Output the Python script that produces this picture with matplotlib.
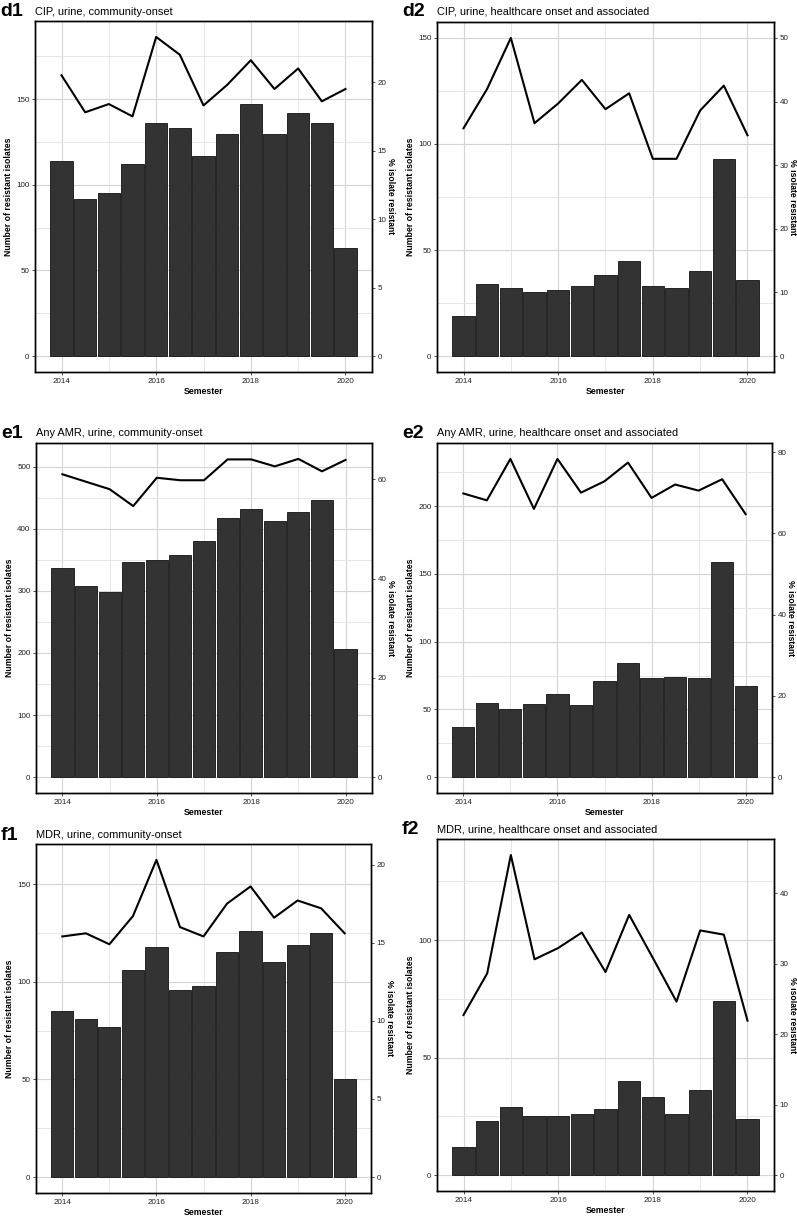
import matplotlib
matplotlib.use("Agg")
import matplotlib.pyplot as plt
from matplotlib.ticker import MultipleLocator

plt.rcParams['font.family'] = ['Liberation Sans', 'DejaVu Sans']

# semesters 2014 H1 ... 2020 H1
semesters = [2014 + 0.5 * i for i in range(13)]

# d1: CIP, urine, community-onset
d1_counts = [114, 92, 95, 112, 136, 133, 117, 130, 147, 130, 142, 136, 63]
d1_pct = [20.5, 17.8, 18.4, 17.5, 23.3, 22.0, 18.3, 19.8, 21.6, 19.5, 21.0, 18.6, 19.5]
# d2: CIP, urine, healthcare onset and associated
d2_counts = [19, 34, 32, 30, 31, 33, 38, 45, 33, 32, 40, 93, 36]
d2_pct = [35.8, 42.0, 50.0, 36.6, 39.7, 43.4, 38.8, 41.3, 31.0, 31.0, 38.6, 42.5, 34.7]
# e1: Any AMR, urine, community-onset
e1_counts = [337, 308, 298, 346, 350, 358, 380, 417, 432, 412, 428, 446, 207]
e1_pct = [61.0, 59.5, 58.0, 54.6, 60.3, 59.8, 59.8, 64.0, 64.0, 62.6, 64.1, 61.6, 63.9]
# e2: Any AMR, urine, healthcare onset and associated
e2_counts = [37, 55, 50, 54, 61, 53, 71, 84, 73, 74, 73, 159, 67]
e2_pct = [69.8, 68.1, 78.3, 66.0, 78.3, 70.0, 72.8, 77.4, 68.7, 72.0, 70.5, 73.3, 64.7]
# f1: MDR, urine, community-onset
f1_counts = [85, 81, 77, 106, 118, 96, 98, 115, 126, 110, 119, 125, 50]
f1_pct = [15.4, 15.6, 14.9, 16.7, 20.3, 16.0, 15.4, 17.5, 18.6, 16.6, 17.7, 17.2, 15.6]
# f2: MDR, urine, healthcare onset and associated
f2_counts = [12, 23, 29, 25, 25, 26, 28, 40, 33, 26, 36, 74, 24]
f2_pct = [22.7, 28.6, 45.4, 30.6, 32.2, 34.4, 28.8, 36.9, 30.8, 24.6, 34.7, 34.1, 21.9]

panels = [
    ("d1", "CIP, urine, community-onset", d1_counts, d1_pct, 8, 50, 5),
    ("d2", "CIP, urine, healthcare onset and associated", d2_counts, d2_pct, 3, 50, 10),
    ("e1", "Any AMR, urine, community-onset", e1_counts, e1_pct, 8, 100, 20),
    ("e2", "Any AMR, urine, healthcare onset and associated", e2_counts, e2_pct, 3, 50, 20),
    ("f1", "MDR, urine, community-onset", f1_counts, f1_pct, 8, 50, 5),
    ("f2", "MDR, urine, healthcare onset and associated", f2_counts, f2_pct, 3, 50, 10),
]

# axes boxes in pixels: left, top, right, bottom
boxes = [
    (35, 21, 372, 372),
    (437, 22, 774, 372),
    (36, 443, 372, 793),
    (437, 443, 772, 793),
    (36, 844, 371, 1193),
    (437, 839, 774, 1191),
]
title_y = [12, 12, 433, 433, 835, 829]

W, H = 797, 1217
fig = plt.figure(figsize=(W / 100, H / 100), dpi=100)

for (tag, title, counts, pct, factor, lstep, rstep), (l, t, r, b), ty in zip(panels, boxes, title_y):
    ax = fig.add_axes([l / W, 1 - b / H, (r - l) / W, (b - t) / H])
    ax.bar(semesters, counts, width=0.47, color="#333333", edgecolor="#111111", linewidth=0.6, zorder=2)

    hi = max(max(counts), max(pct) * factor)
    pad = hi * 0.05
    ax.set_ylim(-pad, hi + pad)
    ax.set_xlim(2013.44, 2020.56)

    ax2 = ax.twinx()
    ax2.plot(semesters, pct, color="black", linewidth=1.5, zorder=3)
    ax2.set_ylim(-pad / factor, (hi + pad) / factor)

    ax.xaxis.set_major_locator(MultipleLocator(2))
    ax.xaxis.set_minor_locator(MultipleLocator(1))
    ax.yaxis.set_major_locator(MultipleLocator(lstep))
    ax.yaxis.set_minor_locator(MultipleLocator(lstep / 2))
    ax2.yaxis.set_major_locator(MultipleLocator(rstep))

    ax.grid(which="major", color="#d4d4d4", linewidth=0.8, zorder=0)
    ax.grid(which="minor", color="#e2e2e2", linewidth=0.6, zorder=0)
    ax.set_axisbelow(True)

    for a in (ax, ax2):
        a.tick_params(which="major", labelsize=5.8, length=2.5, width=0.6,
                      color="#333333", labelcolor="#222222", pad=1.5)
        a.tick_params(which="minor", length=0)
        for s in a.spines.values():
            s.set_linewidth(1.0)
            s.set_color("black")

    ax.set_xlabel("Semester", fontsize=6.3, fontweight="bold", labelpad=2)
    ax.set_ylabel("Number of resistant isolates", fontsize=6.3, fontweight="bold", labelpad=2)
    ax2.set_ylabel("% isolate resistant", fontsize=6.2, fontweight="bold", rotation=270,
                   labelpad=6)

    fig.text(l / W - 35 / W, 1 - ty / H, tag, fontsize=14, fontweight="bold", va="center", ha="left")
    fig.text(l / W, 1 - ty / H, title, fontsize=7.9, va="center", ha="left")

fig.savefig("out.png", dpi=100)
